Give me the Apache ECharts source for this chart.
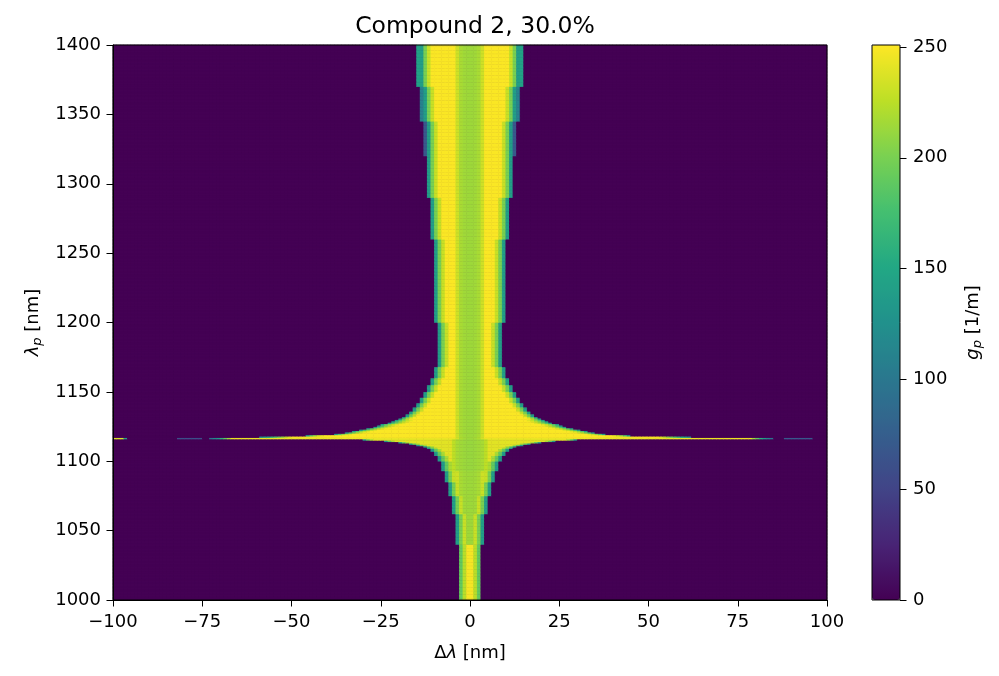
<!DOCTYPE html>
<html>
<head>
<meta charset="utf-8">
<title>Compound 2, 30.0%</title>
<script src="https://cdn.jsdelivr.net/npm/echarts@6/dist/echarts.min.js"></script>
<style>
  html, body { margin: 0; padding: 0; background: #fff; }
  #chart { width: 999px; height: 676px; }
</style>
</head>
<body>
<div id="chart"></div>
<script>
// axis ranges and tick labels
var xTicks = [-100, -75, -50, -25, 0, 25, 50, 75, 100];
var yTicks = [1000, 1050, 1100, 1150, 1200, 1250, 1300, 1350, 1400];
var cbTicks = [0, 50, 100, 150, 200, 250];
var gMax = 251;

// rows of the map: a row band starts at bandStart[k] and runs to the next start (last one to 1400)
// bandLeft / bandRight = edges of the lit region in nm, bandFringe = faint cell just outside the edge
var bandStart  = [1000, 1040, 1062, 1075, 1085, 1093, 1100, 1104, 1107, 1109, 1110, 1111, 1112, 1113, 1114, 1115,
                  1116, 1117,
                  1118, 1119, 1120, 1121, 1122, 1123, 1124, 1125, 1126, 1127, 1128, 1129, 1130, 1131, 1132, 1134,
                  1136, 1139, 1142, 1146, 1150, 1155, 1160, 1168, 1200, 1260, 1290, 1320, 1345, 1370];
var bandLeft   = [-3, -4, -5, -6, -7, -8, -9, -10, -11, -12, -13, -15, -17, -20, -24, -30,
                  -73, -59,
                  -46, -38, -35, -33, -31, -29, -27, -26, -25, -23, -22, -21, -20, -19, -18, -17,
                  -16, -15, -14, -13, -12, -11, -10, -9, -10, -11, -12, -12, -13, -14];
var bandRight  = [3, 4, 5, 6, 7, 8, 9, 10, 11, 12, 13, 15, 17, 20, 24, 30,
                  85, 62,
                  45, 38, 35, 33, 31, 29, 27, 26, 25, 23, 22, 21, 20, 19, 18, 17,
                  16, 15, 14, 13, 12, 11, 10, 9, 10, 11, 12, 12, 13, 14];
var bandFringe = [0, 0, 0, 0, 0, 0, 0, 0, 0, 0, 0, 0, 0, 0, 0, 0,
                  0, 0,
                  0, 0, 0, 0, 0, 0, 0, 0, 0, 0, 0, 0, 0, 0, 0, 0,
                  0, 0, 0, 0, 0, 0, 0, 0, 0, 0, 0, 70, 110, 145];
var bandShape  = [4, 0, 0, 0, 0, 1, 1, 1, 1, 1, 1, 1, 1, 1, 1, 1,
                  2, 3,
                  5, 5, 5, 5, 5, 5, 5, 5, 5, 5, 5, 5, 0, 0, 0, 0,
                  0, 0, 0, 0, 0, 0, 0, 0, 0, 0, 0, 0, 0, 0];

// cross-section values (g_p, 1/m) for each shape: from the outer edge inwards, from the centre outwards, rest
var edgeVals   = [[140, 200, 230],
                  [135, 190, 218],
                  [95, 115, 135, 160, 190, 215],
                  [120, 135, 150, 165, 180, 195, 210, 225, 240],
                  [190, 224, 248],
                  [140, 182, 208, 228, 240]];
var centreVals = [[214, 215, 218, 232],
                  [212, 213, 215, 218, 226],
                  [214, 216, 220, 235],
                  [214, 216, 220, 235],
                  [250],
                  [214, 215, 218, 232]];
var fillVals   = [250, 240, 244, 250, 250, 250];

// loose bits of the thin line at ~1116 nm
var pieceRow  = [1116, 1116, 1116, 1116];
var pieceFrom = [-100, -97, -82, 88];
var pieceTo   = [-97, -96, -75, 96];
var pieceVal  = [238, 140, 60, 70];

var viridis = ['#440154', '#482475', '#414487', '#355f8d', '#2a788e', '#21918c',
               '#22a884', '#44bf70', '#7ad151', '#bddf26', '#fde725'];

var xCats = [], yCats = [];
for (var i = xTicks[0]; i < xTicks[xTicks.length - 1]; i++) xCats.push(i + 0.5);
for (var j = yTicks[0]; j < yTicks[yTicks.length - 1]; j++) yCats.push(j + 0.5);

function bandIndex(y) {
    var k = 0;
    while (k + 1 < bandStart.length && bandStart[k + 1] <= y) k++;
    return k;
}

function cellValue(xc, yc) {
    for (var p = 0; p < pieceRow.length; p++) {
        if (yc > pieceRow[p] && yc < pieceRow[p] + 1 && xc > pieceFrom[p] && xc < pieceTo[p]) return pieceVal[p];
    }
    var k = bandIndex(yc);
    var L = bandLeft[k], R = bandRight[k], s = bandShape[k];
    if (xc > L && xc < R) {
        var e = Math.floor(Math.min(xc - L, R - xc));
        if (e < edgeVals[s].length) return edgeVals[s][e];
        var m = Math.floor(Math.abs(xc));
        if (m < centreVals[s].length) return centreVals[s][m];
        return fillVals[s];
    }
    if (bandFringe[k] && (Math.abs(xc - L) < 1 || Math.abs(xc - R) < 1)) return bandFringe[k];
    return 0;
}

var cells = [];
for (var yi = 0; yi < yCats.length; yi++) {
    for (var xi = 0; xi < xCats.length; xi++) {
        cells.push([xi, yi, cellValue(xCats[xi], yCats[yi])]);
    }
}

var font = 'DejaVu Sans';
function minus(v) { return String(v).replace('-', '\u2212'); }
function plain(v) { return String(v); }

var subRich = {
    n: { fontFamily: font, fontSize: 18, lineHeight: 22 },
    i: { fontFamily: font, fontSize: 18, fontStyle: 'italic', lineHeight: 22 },
    s: { fontFamily: font, fontSize: 13, fontStyle: 'italic', lineHeight: 13, verticalAlign: 'bottom', padding: [9, 0, 0, 0] }
};

var chart = echarts.init(document.getElementById('chart'));
chart.setOption({
    animation: false,
    title: {
        text: 'Compound 2, 30.0%',
        left: 470, top: 10, textAlign: 'center',
        textStyle: { fontFamily: font, fontSize: 23.5, fontWeight: 'normal', color: '#000' }
    },
    grid: [
        { left: 113, top: 45, width: 714, height: 555, show: true, backgroundColor: viridis[0], borderWidth: 0 },
        { left: 113, top: 45, width: 714, height: 555, show: true, backgroundColor: 'transparent',
          borderColor: '#000', borderWidth: 1, z: 10 },
        { left: 872, top: 45, width: 28, height: 555, show: true, backgroundColor: 'transparent',
          borderColor: '#000', borderWidth: 1, z: 10 }
    ],
    xAxis: [
        { type: 'category', gridIndex: 0, data: xCats, show: false },
        {
            type: 'value', gridIndex: 1, min: xTicks[0], max: xTicks[xTicks.length - 1],
            interval: xTicks[1] - xTicks[0], splitLine: { show: false },
            axisLine: { onZero: false, lineStyle: { color: '#000' } },
            axisTick: { length: 6.5, lineStyle: { color: '#000' } },
            axisLabel: { color: '#000', fontFamily: font, fontSize: 18, margin: 13, formatter: minus },
            name: '{n|\u0394}{i|\u03bb}{n| [nm]}', nameLocation: 'middle', nameGap: 42,
            nameTextStyle: { color: '#000', fontFamily: font, fontSize: 18, rich: subRich },
            z: 10
        },
        { type: 'value', gridIndex: 2, show: false, min: 0, max: 1 }
    ],
    yAxis: [
        { type: 'category', gridIndex: 0, data: yCats, show: false },
        {
            type: 'value', gridIndex: 1, min: yTicks[0], max: yTicks[yTicks.length - 1],
            interval: yTicks[1] - yTicks[0], splitLine: { show: false },
            axisLine: { onZero: false, lineStyle: { color: '#000' } },
            axisTick: { length: 6.5, lineStyle: { color: '#000' } },
            axisLabel: { color: '#000', fontFamily: font, fontSize: 18, margin: 12, formatter: plain },
            name: '{i|\u03bb}{s|p}{n| [nm]}', nameLocation: 'middle', nameGap: 62, nameRotate: 90,
            nameTextStyle: { color: '#000', fontFamily: font, fontSize: 18, rich: subRich },
            z: 10
        },
        {
            type: 'value', gridIndex: 2, position: 'right', min: 0, max: gMax,
            splitLine: { show: false },
            axisLine: { show: false, onZero: false },
            axisTick: { length: 6.5, lineStyle: { color: '#000' }, customValues: cbTicks },
            axisLabel: { color: '#000', fontFamily: font, fontSize: 18, margin: 13, customValues: cbTicks, formatter: plain },
            name: '{i|g}{s|p}{n| [1/m]}', nameLocation: 'middle', nameGap: 62, nameRotate: 90,
            nameTextStyle: { color: '#000', fontFamily: font, fontSize: 18, rich: subRich },
            z: 10
        }
    ],
    visualMap: {
        type: 'continuous', min: 0, max: gMax, seriesIndex: 0, calculable: false,
        left: 872, top: 45, itemWidth: 28, itemHeight: 555, padding: 0,
        handleSize: 0, indicatorSize: 0, hoverLink: false,
        inRange: { color: viridis }
    },
    series: [{
        type: 'heatmap', xAxisIndex: 0, yAxisIndex: 0, data: cells,
        progressive: 0, silent: true, emphasis: { disabled: true }
    }]
});
</script>
</body>
</html>
